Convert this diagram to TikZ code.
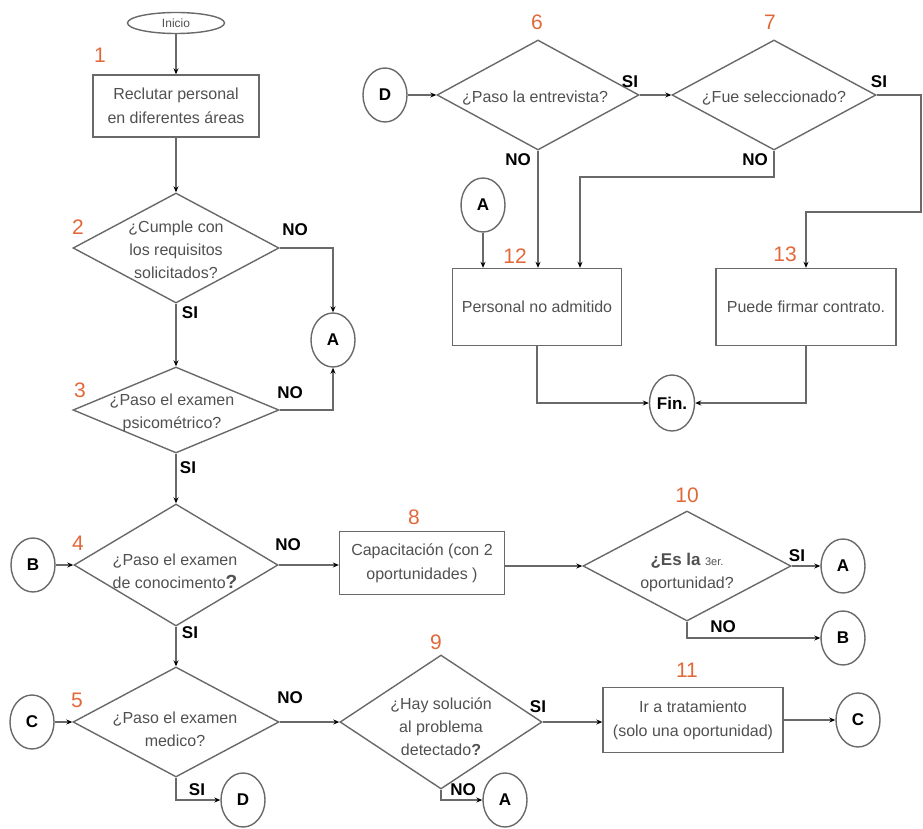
\documentclass[tikz,border=0pt]{standalone}
\usepackage{fontspec}
\setmainfont{Liberation Sans}
\usetikzlibrary{shapes.geometric,arrows.meta}
\definecolor{linegray}{RGB}{105,105,105}
\definecolor{txtgray}{RGB}{80,80,80}
\definecolor{numorange}{RGB}{226,104,58}

\tikzset{
  flow/.style={draw=linegray, line width=1.4pt},
  arr/.style={flow, -{Stealth[length=6pt,width=5pt,color=black]}},
  procbox/.style={draw=linegray, line width=1.4pt, rectangle, inner sep=0pt,
    text=txtgray, align=center, font=\fontsize{16}{24}\selectfont},
  decision/.style={draw=linegray, line width=1.4pt, diamond, inner sep=0pt},
  dtext/.style={text=txtgray, align=center, inner sep=0pt,
    font=\fontsize{16}{23}\selectfont},
  conn/.style={draw=linegray, line width=1.4pt, ellipse, minimum width=44pt,
    minimum height=54pt, inner sep=0pt, font=\bfseries\fontsize{17}{20}\selectfont},
  stepnum/.style={text=numorange, inner sep=0pt, font=\fontsize{21}{24}\selectfont},
  answer/.style={inner sep=0pt, font=\bfseries\fontsize{17}{20}\selectfont},
}

\begin{document}
\begin{tikzpicture}[x=1pt, y=-1pt]
\useasboundingbox (0,0) rectangle (923,829);

% ---------------- left column ----------------
\node[draw=linegray, line width=1.4pt, ellipse, minimum width=97pt, minimum height=21pt,
      inner sep=0pt, text=txtgray, font=\fontsize{12}{14}\selectfont] (inicio) at (176,23) {Inicio};

\node[stepnum] (n1) at (100,55) {1};
\node[procbox, minimum width=166pt, minimum height=62pt] (b1) at (176,106)
  {Reclutar personal\\en diferentes áreas};

\node[decision, minimum width=206pt, minimum height=110pt] (d2) at (176,248) {};
\node[dtext] (t2) at (176,250) {¿Cumple con\\los requisitos\\solicitados?};
\node[stepnum] (n2) at (78,227) {2};
\node[answer] (no2) at (295,230) {NO};
\node[answer] (si2) at (190,313) {SI};

\node[conn] (a1) at (333,340) {A};

\node[decision, minimum width=206pt, minimum height=86pt] (d3) at (176,410) {};
\node[dtext] (t3) at (172,413) {¿Paso el examen\\psicométrico?};
\node[stepnum] (n3) at (80,390) {3};
\node[answer] (no3) at (290,393) {NO};
\node[answer] (si3) at (188,468) {SI};

\node[decision, minimum width=204pt, minimum height=122pt] (d4) at (176,565) {};
\node[dtext] (t4) at (175,571) {¿Paso el examen\\de conocimento{\bfseries\fontsize{19}{23}\selectfont ?}};
\node[stepnum] (n4) at (78,543) {4};
\node[answer] (no4) at (288,545) {NO};
\node[answer] (si4) at (190,633) {SI};
\node[conn] (b1c) at (33,565) {B};

\node[decision, minimum width=206pt, minimum height=110pt] (d5) at (176,722) {};
\node[dtext] (t5) at (175,729) {¿Paso el examen\\medico?};
\node[stepnum] (n5) at (77,700) {5};
\node[answer] (no5) at (290,698) {NO};
\node[answer] (si5) at (197,790) {SI};
\node[conn] (c1) at (32,722) {C};
\node[conn] (d1c) at (243,800) {D};

% ---------------- middle / right, lower part ----------------
\node[procbox, minimum width=165pt, minimum height=63pt] (b8) at (422,563)
  {Capacitación (con 2\\oportunidades )};
\node[stepnum] (n8) at (414,517) {8};

\node[decision, minimum width=208pt, minimum height=110pt] (d10) at (687,566) {};
\node[dtext] (t10) at (687,572)
  {{\bfseries\fontsize{17}{23}\selectfont ¿Es la} {\fontsize{11}{23}\selectfont 3er.}\\oportunidad?};
\node[stepnum] (n10) at (687,495) {10};
\node[answer] (si10) at (797,556) {SI};
\node[answer] (no10) at (723,627) {NO};
\node[conn] (a2) at (843,566) {A};
\node[conn] (b2c) at (843,638) {B};

\node[decision, minimum width=202pt, minimum height=134pt] (d9) at (441,722) {};
\node[dtext] (t9) at (441,727) {¿Hay solución\\al problema\\detectado{\bfseries ?}};
\node[stepnum] (n9) at (436,642) {9};
\node[answer] (si9) at (538,707) {SI};
\node[answer] (no9) at (463,790) {NO};
\node[conn] (a3) at (505,800) {A};

\node[procbox, minimum width=180pt, minimum height=65pt] (b11) at (693,720)
  {Ir a tratamiento\\(solo una oportunidad)};
\node[stepnum] (n11) at (687,670) {11};
\node[conn] (c2) at (858,720) {C};

% ---------------- upper right part ----------------
\node[conn] (d2c) at (385,95) {D};

\node[decision, minimum width=202pt, minimum height=110pt] (d6) at (538,95) {};
\node[dtext] (t6) at (535,98) {¿Paso la entrevista?};
\node[stepnum] (n6) at (537,22) {6};
\node[answer] (si6) at (630,82) {SI};
\node[answer] (no6) at (518,160) {NO};

\node[decision, minimum width=204pt, minimum height=110pt] (d7) at (774,95) {};
\node[dtext] (t7) at (774,98) {¿Fue seleccionado?};
\node[stepnum] (n7) at (770,22) {7};
\node[answer] (si7) at (879,82) {SI};
\node[answer] (no7) at (755,160) {NO};

\node[conn] (a4) at (483,205) {A};

\node[procbox, minimum width=169pt, minimum height=77pt] (b12) at (537,307) {Personal no admitido};
\node[stepnum] (n12) at (515,256) {12};

\node[procbox, minimum width=180pt, minimum height=77pt] (b13) at (806,307) {Puede firmar contrato.};
\node[stepnum] (n13) at (785,254) {13};

\node[conn, minimum width=45pt, minimum height=56pt] (fin) at (672,403) {Fin.};

\coordinate (k7) at (580,177);
\coordinate (edge) at (921,212);

% ---------------- connectors ----------------
\draw[arr] (inicio) -- (b1);
\draw[arr] (b1) -- (d2);
\draw[arr] (d2.east) -| (a1.north);
\draw[arr] (d2.south) -- (d3.north);
\draw[arr] (d3.east) -| (a1.south);
\draw[arr] (d3.south) -- (d4.north);
\draw[arr] (b1c.east) -- (d4.west);
\draw[arr] (d4.east) -- (d4.east -| b8.west);
\draw[arr] (b8.east |- d10.west) -- (d10.west);
\draw[arr] (d10.east) -- (a2.west);
\draw[arr] (d10.south) |- (b2c.west);
\draw[arr] (d4.south) -- (d5.north);
\draw[arr] (c1.east) -- (d5.west);
\draw[arr] (d5.east) -- (d9.west);
\draw[arr] (d5.south) |- (d1c.west);
\draw[arr] (d9.south) |- (a3.west);
\draw[arr] (d9.east) -- (d9.east -| b11.west);
\draw[arr] (b11.east) -- (c2.west);

\draw[arr] (d2c.east) -- (d6.west);
\draw[arr] (d6.east) -- (d7.west);
\draw[arr] (d6.south) -- (d6.south |- b12.north);
\draw[arr] (d7.south) |- (k7) -- (k7 |- b12.north);
\draw[arr] (a4.south) -- (a4.south |- b12.north);
\draw[arr] (d7.east) -| (edge) -| (b13.north);
\draw[arr] (b12.south) |- (fin.west);
\draw[arr] (b13.south) |- (fin.east);
\end{tikzpicture}
\end{document}
